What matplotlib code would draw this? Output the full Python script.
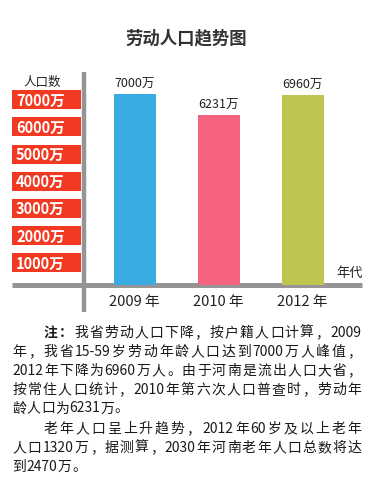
import re
import numpy as np
import matplotlib
matplotlib.use('Agg')
import matplotlib.pyplot as plt
from matplotlib.patches import Rectangle

plt.rcParams['font.family'] = ['Noto Sans CJK SC', 'DejaVu Sans']

# data
years = ['2009 年', '2010 年', '2012 年']
values = [7000, 6231, 6960]
value_labels = ['7000万', '6231万', '6960万']
bar_colors = ['#3aabe0', '#f7637f', '#c0c54f']
ticks = [1000, 2000, 3000, 4000, 5000, 6000, 7000]
tick_labels = ['1000万', '2000万', '3000万', '4000万', '5000万', '6000万', '7000万']

title = '劳动人口趋势图'
note_lines = [
    ('注：我省劳动人口下降，按户籍人口计算，2009', True, True),
    ('年，我省15-59岁劳动年龄人口达到7000万人峰值，', False, True),
    ('2012年下降为6960万人。由于河南是流出人口大省，', False, True),
    ('按常住人口统计，2010年第六次人口普查时，劳动年', False, True),
    ('龄人口为6231万。', False, False),
    ('老年人口呈上升趋势，2012年60岁及以上老年', True, True),
    ('人口1320万，据测算，2030年河南老年人口总数将达', False, True),
    ('到2470万。', False, False),
]

W, H = 384, 485
fig = plt.figure(figsize=(W / 100, H / 100), dpi=100)

# full-figure pixel axes for decorations
bg = fig.add_axes([0, 0, 1, 1])
bg.set_xlim(0, W)
bg.set_ylim(H, 0)
bg.axis('off')

# plot area in pixels
x_left, x_right = 84, 362
y_base, y_top = 285.5, 73
px_per_unit = 27.2 / 1000
ax = fig.add_axes([x_left / W, (H - y_base) / H, (x_right - x_left) / W, (y_base - y_top) / H])
ax.set_ylim(0, (y_base - y_top) / px_per_unit)
step = 84.0
x = np.arange(len(years))
ax.set_xlim(-(134.5 - x_left) / step, 2 + (x_right - 302.5) / step)
ax.axis('off')

ax.bar(x, values, width=0.5, color=bar_colors, zorder=1)
for xi, v, lab in zip(x, values, value_labels):
    ax.annotate(lab, (xi, v), xytext=(0, 3), textcoords='offset points',
                ha='center', va='bottom', fontsize=9, color='#222222')

# red tick label boxes
ytr = ax.get_yaxis_transform()
box_h = 19 / px_per_unit
for v, lab in zip(ticks, tick_labels):
    top = v + 4 / px_per_unit
    ax.add_patch(Rectangle(((12 - x_left) / (x_right - x_left), top - box_h),
                           69 / (x_right - x_left), box_h, transform=ytr,
                           facecolor='#f23a22', edgecolor='none', clip_on=False))
    ax.text((16 - x_left) / (x_right - x_left), top - box_h / 2, lab, transform=ytr,
            ha='left', va='center', fontsize=10.5, fontweight='bold', color='white')

# year labels
for xi, lab in zip(x, years):
    ax.text(xi, -16.5 / px_per_unit, lab, ha='center', va='center',
            fontsize=10.5, color='#222222')

# axis lines
bg.plot([84, 84], [73, 313], color='#959595', lw=3.2, solid_capstyle='butt', zorder=3)
bg.plot([12, 362], [285.7, 285.7], color='#959595', lw=3.6, solid_capstyle='butt', zorder=3)
bg.text(42, 82, '人口数', ha='center', va='center', fontsize=9, color='#222222')
bg.text(350, 273, '年代', ha='center', va='center', fontsize=9.5, color='#222222')

bg.text(186, 38, title, ha='center', va='center', fontsize=12.5, fontweight='bold', color='#333333')

# justified note text
renderer = fig.canvas.get_renderer()


def tokens(s):
    return re.findall(r'[0-9A-Za-z\-\.]+|.', s)


line_y = [333, 352, 371, 390, 408.5, 429, 448, 467]
fs = 10
for (line, indent, justify), y in zip(note_lines, line_y):
    x0 = 44 if indent else 12.5
    x1 = 361
    toks = tokens(line)
    weights = ['bold' if indent and line.startswith('注') and i < 2 else 'normal'
               for i in range(len(toks))]
    widths = []
    for t, w in zip(toks, weights):
        tt = bg.text(0, 0, t, fontsize=fs, fontweight=w)
        widths.append(tt.get_window_extent(renderer).width)
        tt.remove()
    if justify and len(toks) > 1:
        gap = (x1 - x0 - sum(widths)) / (len(toks) - 1)
    else:
        gap = 0.3
    cx = x0
    for t, w, wd in zip(toks, weights, widths):
        bg.text(cx, y, t, ha='left', va='center', fontsize=fs, fontweight=w, color='#1a1a1a')
        cx += wd + gap

fig.savefig('out.png', dpi=100)
